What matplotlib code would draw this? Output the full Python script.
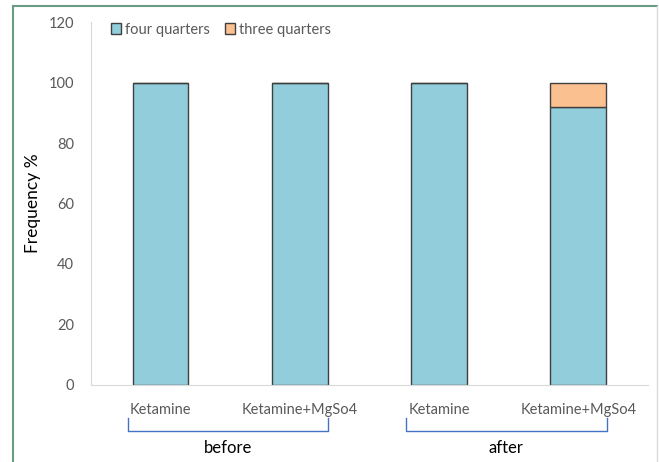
import matplotlib.pyplot as plt
from matplotlib.lines import Line2D
import matplotlib.transforms as mtransforms

categories = ["Ketamine", "Ketamine+MgSo4", "Ketamine", "Ketamine+MgSo4"]
four_quarters = [100, 100, 100, 92]
three_quarters = [0, 0, 0, 8]
groups = ["before", "after"]

plt.rcParams['font.family'] = ['Lato', 'DejaVu Sans']

fig = plt.figure(figsize=(6.59, 4.62), dpi=100)
ax = fig.add_axes([0.138, 0.167, 0.845, 0.785])

x = range(len(categories))
ax.bar(x, four_quarters, width=0.4, color='#92CDDC', edgecolor='#3f3f3f',
       linewidth=1, label='four quarters')
ax.bar(x, three_quarters, width=0.4, bottom=four_quarters, color='#FAC090',
       edgecolor='#3f3f3f', linewidth=1, label='three quarters')

ax.set_xlim(-0.5, 3.5)
ax.set_ylim(0, 120)
ax.set_yticks(range(0, 121, 20))
ax.set_xticks(list(x))
ax.set_xticklabels(categories)
ax.tick_params(axis='both', length=0, colors='#595959', labelsize=10.5)
ax.tick_params(axis='x', pad=13)
ax.tick_params(axis='y', pad=12)
for s in ['top', 'right']:
    ax.spines[s].set_visible(False)
ax.spines['left'].set_color('#D9D9D9')
ax.spines['bottom'].set_color('#D9D9D9')
ax.set_ylabel('Frequency %', fontsize=12.5)
ax.yaxis.set_label_coords(-0.09, 0.5)

leg = ax.legend(loc='upper left', bbox_to_anchor=(0.025, 1.015), ncol=2, frameon=False,
                fontsize=10.5, handlelength=0.7, handleheight=0.7,
                handletextpad=0.3, columnspacing=1.0, borderaxespad=0)
for t in leg.get_texts():
    t.set_color('#595959')

# group brackets under the category labels
trans = mtransforms.blended_transform_factory(ax.transData, fig.transFigure)
y_top = 1 - 418 / 462
y_bot = 1 - 431 / 462
for i, g in enumerate(groups):
    x0 = 2 * i - 0.237
    x1 = 2 * i + 1.205
    ax.add_line(Line2D([x0, x0, x1, x1], [y_top, y_bot, y_bot, y_top],
                       transform=trans, color='#4472C4', linewidth=1,
                       clip_on=False))
    fig.text((x0 + x1) / 2, 1 - 448 / 462, g, transform=trans, fontsize=12,
             ha='center', va='center')

# outer frame
fig.add_artist(Line2D([13 / 659, 13 / 659], [0, 1 - 6 / 462], color='#6A9E82', linewidth=1.5))
fig.add_artist(Line2D([13 / 659, 657 / 659], [1 - 6 / 462, 1 - 6 / 462], color='#6A9E82', linewidth=1.5))
fig.add_artist(Line2D([657 / 659, 657 / 659], [0, 1 - 6 / 462], color='#D9D9D9', linewidth=1))

fig.savefig('out.png', dpi=100)
